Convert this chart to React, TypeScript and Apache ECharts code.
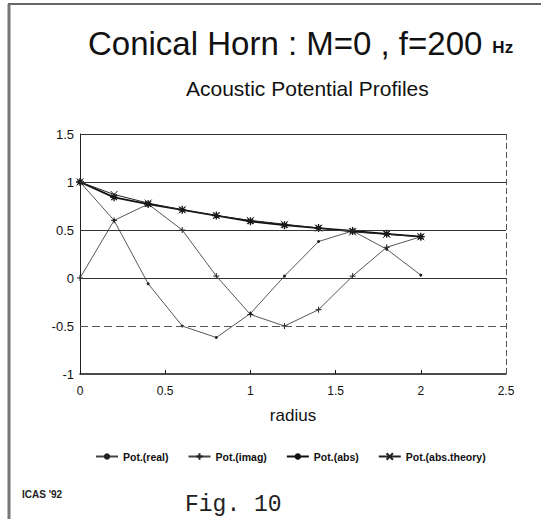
import React, { useEffect, useRef } from "react";
import * as echarts from "echarts";

const radius = [0, 0.2, 0.4, 0.6, 0.8, 1.0, 1.2, 1.4, 1.6, 1.8, 2.0];
const potReal = [1, 0.6, -0.06, -0.5, -0.62, -0.37, 0.02, 0.38, 0.49, 0.3, 0.03];
const potImag = [0, 0.6, 0.77, 0.5, 0.02, -0.38, -0.5, -0.33, 0.02, 0.32, 0.43];
const potAbs = [1, 0.84, 0.77, 0.71, 0.65, 0.59, 0.55, 0.52, 0.49, 0.46, 0.43];
const potAbsTheory = [1, 0.87, 0.78, 0.71, 0.65, 0.6, 0.56, 0.52, 0.48, 0.455, 0.43];
const seriesNames = ["Pot.(real)", "Pot.(imag)", "Pot.(abs)", "Pot.(abs.theory)"];
const gridSolid = [1.5, 1, 0.5, 0];
const gridDashed = [-0.5];

const FONT = "'Liberation Sans', Arial, sans-serif";
const PLUS = "path://M5,0L5,10M0,5L10,5";
const STAR = "path://M5,0L5,10M0,5L10,5M1.5,1.5L8.5,8.5M8.5,1.5L1.5,8.5";
const CROSS = "path://M0,0L10,10M10,0L0,10";

function pairs(vals: number[]) {
  return radius.map((r, i) => [r, vals[i]]);
}

export default function App() {
  const ref = useRef<HTMLDivElement>(null);
  useEffect(() => {
    if (!ref.current) return;
    const chart = echarts.init(ref.current, null, { renderer: "svg" });
    chart.setOption({
      animation: false,
      backgroundColor: "#ffffff",
      title: [
        {
          text: "{a|Conical Horn : M=0 , f=200}  {b|Hz}",
          left: 83,
          top: 22,
          textStyle: {
            fontWeight: "normal",
            rich: {
              a: { fontFamily: FONT, fontSize: 33, fontWeight: "normal", color: "#111" },
              b: { fontFamily: FONT, fontSize: 17, fontWeight: "bold", color: "#111", padding: [7, 0, 0, 0] },
            },
          },
        },
        {
          text: "Acoustic Potential Profiles",
          left: 181,
          top: 73,
          textStyle: { fontFamily: FONT, fontSize: 21, fontWeight: "normal", color: "#111" },
        },
        {
          text: "ICAS '92",
          left: 17,
          top: 484,
          textStyle: { fontFamily: FONT, fontSize: 10, fontWeight: "bold", color: "#222" },
        },
        {
          text: "Fig. 10",
          left: 180,
          top: 488,
          textStyle: { fontFamily: "'Liberation Mono', 'DejaVu Sans Mono', monospace", fontSize: 23, fontWeight: "normal", color: "#222" },
        },
      ],
      legend: {
        data: seriesNames,
        left: 90,
        top: 446,
        itemWidth: 22,
        itemHeight: 8,
        itemGap: 19,
        selectedMode: false,
        textStyle: { fontFamily: FONT, fontSize: 10.5, fontWeight: "bold", color: "#111" },
      },
      grid: { left: 80, right: 35, top: 134, bottom: 145 },
      xAxis: {
        type: "value",
        min: 0,
        max: 2.5,
        interval: 0.5,
        name: "radius",
        nameLocation: "middle",
        nameGap: 33,
        nameTextStyle: { fontFamily: FONT, fontSize: 17, color: "#111" },
        axisLine: { show: true, onZero: false, lineStyle: { color: "#111", width: 1.5 } },
        axisTick: { show: true, inside: true, length: 4, lineStyle: { color: "#111" } },
        axisLabel: { fontFamily: FONT, fontSize: 12, color: "#111", margin: 11 },
        splitLine: { show: false },
      },
      yAxis: {
        type: "value",
        min: -1,
        max: 1.5,
        interval: 0.5,
        axisLine: { show: true, onZero: false, lineStyle: { color: "#222", width: 1 } },
        axisTick: { show: false },
        axisLabel: { fontFamily: FONT, fontSize: 13, color: "#111", margin: 6 },
        splitLine: { show: false },
      },
      series: [
        {
          name: seriesNames[0],
          type: "line",
          data: pairs(potReal),
          symbol: "circle",
          symbolSize: 3,
          lineStyle: { color: "#444", width: 0.9 },
          itemStyle: { color: "#222" },
          z: 3,
          markLine: {
            silent: true,
            symbol: "none",
            label: { show: false },
            data: [
              ...gridSolid.map((v) => ({ yAxis: v, lineStyle: { color: "#333", width: 1.1, type: "solid" } })),
              ...gridDashed.map((v) => ({ yAxis: v, lineStyle: { color: "#555", width: 1, type: [8, 4] } })),
              { xAxis: 2.5, lineStyle: { color: "#555", width: 1, type: [6, 3] } },
            ],
          },
        },
        {
          name: seriesNames[1],
          type: "line",
          data: pairs(potImag),
          symbol: PLUS,
          symbolSize: 6,
          lineStyle: { color: "#444", width: 0.9 },
          itemStyle: { color: "#222", borderColor: "#222", borderWidth: 1 },
          z: 3,
        },
        {
          name: seriesNames[2],
          type: "line",
          data: pairs(potAbs),
          symbol: STAR,
          symbolSize: 8,
          lineStyle: { color: "#111", width: 1.8 },
          itemStyle: { color: "#111", borderColor: "#111", borderWidth: 1.3 },
          z: 4,
        },
        {
          name: seriesNames[3],
          type: "line",
          data: pairs(potAbsTheory),
          symbol: CROSS,
          symbolSize: 7,
          lineStyle: { color: "#222", width: 1 },
          itemStyle: { color: "#222", borderColor: "#222", borderWidth: 1 },
          z: 4,
        },
      ],
      graphic: [
        { type: "line", shape: { x1: 8, y1: 4, x2: 541, y2: 4 }, style: { stroke: "#666", lineWidth: 2 } },
        { type: "line", shape: { x1: 9, y1: 4, x2: 9, y2: 519 }, style: { stroke: "#777", lineWidth: 3 } },
      ],
    });
    return () => chart.dispose();
  }, []);
  return (
    <div
      ref={ref}
      style={{ position: "fixed", left: 0, top: 0, width: 541, height: 519, background: "#fff" }}
    />
  );
}
